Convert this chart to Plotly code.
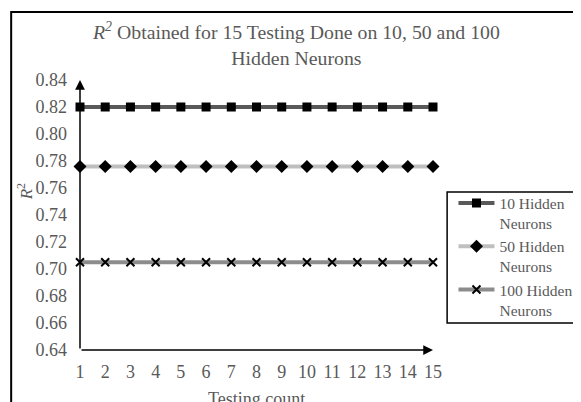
import plotly.graph_objects as go

testing_count = list(range(1, 16))
r2_10 = [0.820] * 15
r2_50 = [0.776] * 15
r2_100 = [0.705] * 15
y_ticks = [0.64, 0.66, 0.68, 0.70, 0.72, 0.74, 0.76, 0.78, 0.80, 0.82, 0.84]

font = 'Liberation Serif, Times New Roman, serif'
grey_txt = '#595959'

fig = go.Figure()
fig.add_trace(go.Scatter(x=testing_count, y=r2_10, mode='lines+markers', name='10 Hidden<br>Neurons',
                         line=dict(width=4, color='#595959'),
                         marker=dict(symbol='square', size=9, color='black'), cliponaxis=False))
fig.add_trace(go.Scatter(x=testing_count, y=r2_50, mode='lines+markers', name='50 Hidden<br>Neurons',
                         line=dict(width=4, color='#bfbfbf'),
                         marker=dict(symbol='diamond', size=10, color='black'), cliponaxis=False))
fig.add_trace(go.Scatter(x=testing_count, y=r2_100, mode='lines+markers', name='100 Hidden<br>Neurons',
                         line=dict(width=4, color='#8c8c8c'),
                         marker=dict(symbol='x-thin', size=8, color='black', line=dict(width=2, color='black')),
                         cliponaxis=False))

# axis arrows
fig.add_annotation(x=15, y=0.64, ax=1, ay=0.64, xref='x', yref='y', axref='x', ayref='y',
                   showarrow=True, arrowhead=2, arrowsize=1.3, arrowwidth=1.5, arrowcolor='black', text='')
fig.add_annotation(x=1, y=0.84, ax=1, ay=0.64, xref='x', yref='y', axref='x', ayref='y',
                   showarrow=True, arrowhead=2, arrowsize=1.3, arrowwidth=1.5, arrowcolor='black', text='')

# title and axis titles
fig.add_annotation(text='<i>R</i><sup><i>2</i></sup> Obtained for 15 Testing Done on 10, 50 and 100<br>Hidden Neurons',
                   xref='paper', yref='paper', x=0.613, y=1.135, xanchor='center', yanchor='middle',
                   showarrow=False, font=dict(family=font, size=19.8, color=grey_txt))
fig.add_annotation(text='<i>R</i><sup>2</sup>', textangle=-90, xref='paper', yref='paper',
                   x=-0.155, y=0.585, xanchor='center', yanchor='middle',
                   showarrow=False, font=dict(family=font, size=17, color=grey_txt))
fig.add_annotation(text='Testing count', xref='paper', yref='paper', x=0.5, y=-0.18,
                   xanchor='center', yanchor='middle',
                   showarrow=False, font=dict(family=font, size=18, color=grey_txt))

# outer chart border (runs past the right/bottom edge) and legend box
fig.add_shape(type='rect', xref='paper', yref='paper', x0=-0.195, x1=1.6, y0=-0.3, y1=1.252,
              line=dict(color='black', width=2), fillcolor='rgba(0,0,0,0)')
fig.add_shape(type='rect', xref='paper', yref='paper', x0=1.04, x1=1.435, y0=0.1, y1=0.585,
              line=dict(color='black', width=1.5), fillcolor='rgba(0,0,0,0)')

# page body has an 8px margin, so the figure is laid out 8px up/left;
# extra width on the right only falls outside the window
fig.update_layout(
    width=640, height=420,
    margin=dict(l=72, r=215, t=72, b=78, autoexpand=False),
    plot_bgcolor='white', paper_bgcolor='white',
    font=dict(family=font, size=18, color=grey_txt),
    xaxis=dict(range=[1, 15], tickvals=testing_count, showgrid=False, zeroline=False, showline=False,
               ticks='', ticklabelstandoff=9, automargin=False),
    yaxis=dict(range=[0.64, 0.84], tickvals=y_ticks, tickformat='.2f', showgrid=False, zeroline=False,
               showline=False, ticks='', ticklabelstandoff=12, automargin=False),
    legend=dict(x=1.058, y=0.606, xanchor='left', yanchor='top', borderwidth=0,
                bgcolor='rgba(0,0,0,0)', font=dict(family=font, size=15.5, color=grey_txt),
                itemwidth=36, tracegroupgap=0, valign='top'),
    showlegend=True,
)

fig.write_html('out.html')
